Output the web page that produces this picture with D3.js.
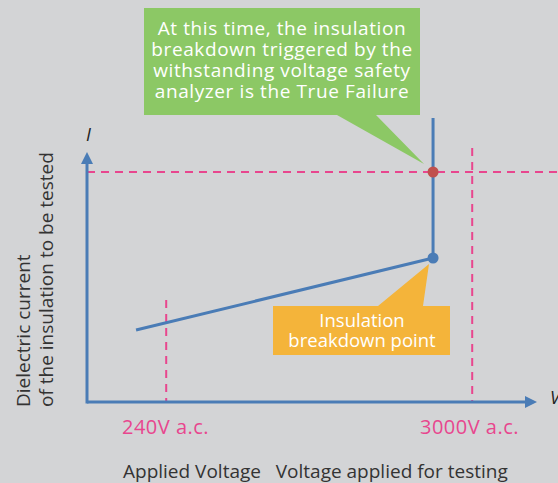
<!DOCTYPE html>
<html>
<head>
<meta charset="utf-8">
<script src="https://cdn.jsdelivr.net/npm/d3@7"></script>
<style>
  html, body { margin: 0; padding: 0; background: #d3d4d6; }
  svg { display: block; font-family: "Open Sans", "Noto Sans", sans-serif; }
</style>
</head>
<body>
<div class="chart"></div>
<script>
// schematic units: x and y both 0..100
const curveX = [10.9, 76.9];
const curveY = [28.8, 57.6];
const failX = [76.9, 76.9];
const failY = [57.6, 113.6];
const trueFailure = [76.9, 92];
const breakdownPoint = [76.9, 57.6];
const markX = [17.6, 85.6];
const markTop = [40.8, 101.6];
const markLabels = ["240V a.c.", "3000V a.c."];
const limitY = 92;
const greenLines = ["At this time, the insulation", "breakdown triggered by the",
    "withstanding voltage safety", "analyzer is the True Failure"];
const orangeLines = ["Insulation", "breakdown point"];
const yTitle = ["Dielectric current", "of the insulation to be tested"];
const xTitle = "Applied Voltage   Voltage applied for testing";

const W = 558, H = 483;
const blue = "#4a7cb6", pink = "#e8468e";

const svg = d3.select(".chart").append("svg")
    .attr("width", W)
    .attr("height", H);

const x = d3.scaleLinear().domain([0, 100]).range([87, 537]);
const y = d3.scaleLinear().domain([0, 100]).range([402, 152]);

// dashed reference lines
svg.append("line")
    .attr("x1", x(0)).attr("x2", W)
    .attr("y1", y(limitY)).attr("y2", y(limitY))
    .attr("stroke", pink).attr("stroke-width", 2)
    .attr("stroke-dasharray", "8,6");

svg.selectAll(".mark")
    .data(markX)
    .enter()
    .append("line")
    .attr("x1", d => x(d)).attr("x2", d => x(d))
    .attr("y1", (d, i) => y(markTop[i])).attr("y2", y(0))
    .attr("stroke", pink).attr("stroke-width", 2)
    .attr("stroke-dasharray", "8,6");

// axes
svg.append("line")
    .attr("x1", x(0)).attr("x2", x(100) - 8)
    .attr("y1", y(0)).attr("y2", y(0))
    .attr("stroke", blue).attr("stroke-width", 3);
svg.append("path")
    .attr("d", `M${x(100)},${y(0)} L${x(100) - 12},${y(0) - 6} L${x(100) - 12},${y(0) + 6} Z`)
    .attr("fill", blue);

svg.append("line")
    .attr("x1", x(0)).attr("x2", x(0))
    .attr("y1", y(0) + 1.5).attr("y2", y(100) + 8)
    .attr("stroke", blue).attr("stroke-width", 3);
svg.append("path")
    .attr("d", `M${x(0)},${y(100)} L${x(0) - 6},${y(100) + 12} L${x(0) + 6},${y(100) + 12} Z`)
    .attr("fill", blue);

// curve
const line = d3.line().x(d => x(d[0])).y(d => y(d[1]));
svg.append("path")
    .datum(d3.zip(curveX, curveY))
    .attr("d", line)
    .attr("fill", "none").attr("stroke", blue).attr("stroke-width", 3);
svg.append("path")
    .datum(d3.zip(failX, failY))
    .attr("d", line)
    .attr("fill", "none").attr("stroke", blue).attr("stroke-width", 3);

// callouts
svg.append("path")
    .attr("d", "M144,8 H420 V115 H376 L424,164 L337,115 H144 Z")
    .attr("fill", "#8cc865");
svg.append("path")
    .attr("d", "M273,306 H378 L429,264 L423,306 H450 V355 H273 Z")
    .attr("fill", "#f4b43a");

svg.append("circle")
    .attr("cx", x(trueFailure[0])).attr("cy", y(trueFailure[1]))
    .attr("r", 5.5).attr("fill", "#c0504d");
svg.append("circle")
    .attr("cx", x(breakdownPoint[0])).attr("cy", y(breakdownPoint[1]))
    .attr("r", 5.5).attr("fill", blue);

const gText = svg.append("text")
    .attr("text-anchor", "middle")
    .attr("font-size", 19).attr("letter-spacing", 0.6)
    .attr("fill", "#fff");
gText.selectAll("tspan")
    .data(greenLines)
    .enter()
    .append("tspan")
    .attr("x", 282).attr("y", (d, i) => 35 + i * 21)
    .text(d => d);

const oText = svg.append("text")
    .attr("text-anchor", "middle")
    .attr("font-size", 18.5).attr("fill", "#fff");
oText.selectAll("tspan")
    .data(orangeLines)
    .enter()
    .append("tspan")
    .attr("x", 362).attr("y", (d, i) => 327 + i * 20)
    .text(d => d);

// labels
svg.selectAll(".mlab")
    .data(markLabels)
    .enter()
    .append("text")
    .attr("x", (d, i) => i === 0 ? 122 : 420).attr("y", 434)
    .attr("font-size", 20).attr("letter-spacing", 0.5).attr("fill", pink)
    .text(d => d);

svg.append("text")
    .attr("x", 123).attr("y", 478)
    .attr("font-size", 19).attr("fill", "#333")
    .attr("xml:space", "preserve")
    .style("white-space", "pre")
    .text(xTitle);

svg.selectAll(".ytitle")
    .data(yTitle)
    .enter()
    .append("text")
    .attr("transform", (d, i) => `translate(${i === 0 ? 30 : 53},407) rotate(-90)`)
    .attr("font-size", 19).attr("fill", "#333")
    .text(d => d);

svg.append("text")
    .attr("x", 86).attr("y", 141)
    .attr("font-size", 18).attr("font-style", "italic").attr("fill", "#222")
    .text("I");
svg.append("text")
    .attr("x", 550).attr("y", 404)
    .attr("font-size", 18).attr("font-style", "italic").attr("fill", "#222")
    .text("V");
</script>
</body>
</html>
